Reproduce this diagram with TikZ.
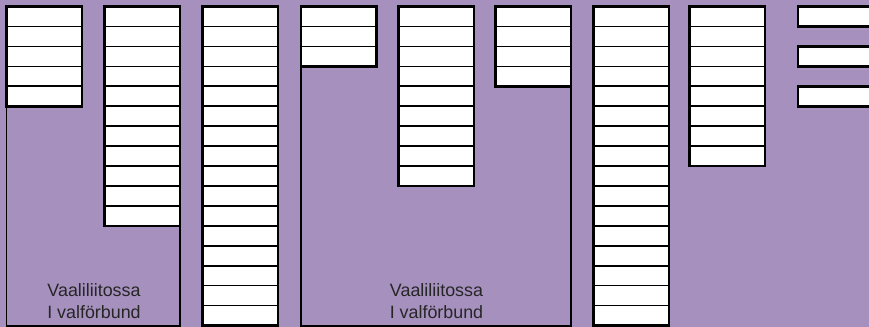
\documentclass[tikz,border=0pt]{standalone}
\usepackage{fontspec}
\setmainfont{Liberation Sans}
\definecolor{ballot}{RGB}{166,144,190}
\begin{document}
\begin{tikzpicture}[x=0.75pt, y=-0.75pt,
  list/.style = {shape=rectangle, draw, fill=white, line width=2pt,
    inner sep=0pt, outer sep=0pt, minimum width=56.6pt, anchor=north west},
  rule/.style = {line width=1.2pt},
  pact/.style = {line width=1pt},
  caption/.style = {align=center, text=black!85,
    font=\fontsize{13.4}{16.7}\selectfont}]
  \clip (0,0) rectangle (869,327);
  \fill[ballot] (0,0) rectangle (869,327);
  \def\rowh{14.955pt}
  \coordinate (floor) at (0,326);
  % candidate lists
  \foreach \name/\x/\n in {c1/6.5/5, c2/104.5/11, c3/202.5/16, c4/301/3,
      c5/398.5/9, c6/495.5/4, c7/593.5/16, c8/689.5/8}
  {
    \node[list, minimum height=\n*\rowh] (\name) at (\x,6.5) {};
    \foreach \k in {1,...,\n}
      \draw[rule] ([yshift=-\k*\rowh]\name.north west)
        -- ([yshift=-\k*\rowh]\name.north east);
  }
  \foreach \name/\y in {b1/6.5, b2/46.5, b3/86.5}
    \node[list, minimum height=\rowh, minimum width=60pt] (\name) at (798,\y) {};
  % electoral alliances
  \draw[pact] (c1.south west) -- (c1.south west |- floor)
    -- (c2.south east |- floor) -- (c2.south east);
  \draw[pact] (c4.south west) -- (c4.south west |- floor)
    -- (c6.south east |- floor) -- (c6.south east);
  \node[caption, anchor=base] (t1) at (94,319) {Vaaliliitossa\\I valförbund};
  \node[caption, anchor=base] (t2) at (436.5,319) {Vaaliliitossa\\I valförbund};
\end{tikzpicture}
\end{document}
